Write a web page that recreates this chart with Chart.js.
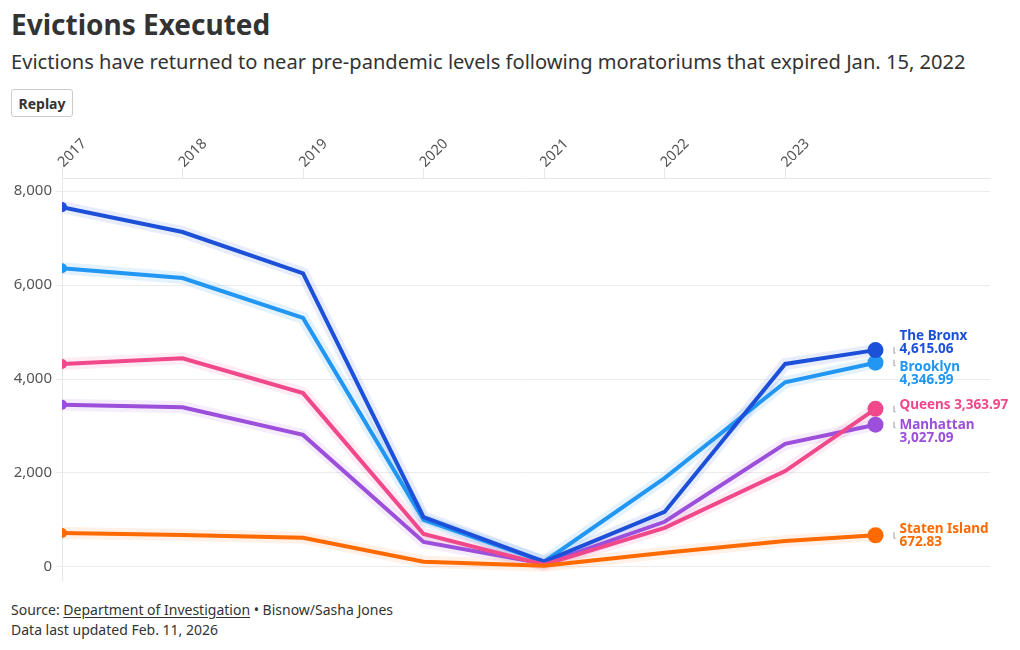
<!DOCTYPE html>
<html>
<head>
<meta charset="utf-8">
<script src="https://cdn.jsdelivr.net/npm/chart.js@4.4.1/dist/chart.umd.min.js"></script>
<style>
  body { margin: 0; background: #fff; font-family: "Noto Sans", sans-serif; color: #333; }
  #wrap { position: relative; width: 1020px; height: 650px; overflow: hidden; }
  h1 { position: absolute; left: 11px; top: 10px; margin: 0; font-size: 28px; line-height: 28px; font-weight: 700; color: #333; }
  .sub { position: absolute; left: 11px; top: 52px; font-size: 20.1px; line-height: 20px; color: #333; white-space: nowrap; }
  button { position: absolute; left: 11px; top: 89px; width: 62px; height: 28px; padding: 0; background: #fff;
           border: 1px solid #ccc; border-radius: 3px; font-family: "Noto Sans", sans-serif; font-weight: 700; font-size: 14px; color: #333; }
  #chartBox { position: absolute; left: 0; top: 120px; width: 1020px; height: 475px; }
  .foot { position: absolute; left: 11px; font-size: 14px; line-height: 20px; color: #333; white-space: nowrap; }
  .foot u { text-underline-offset: 2px; }
</style>
</head>
<body>
<div id="wrap">
  <h1>Evictions Executed</h1>
  <div class="sub">Evictions have returned to near pre-pandemic levels following moratoriums that expired Jan. 15, 2022</div>
  <button>Replay</button>
  <div id="chartBox"><canvas id="myChart"></canvas></div>
  <div class="foot" style="top:600px">Source: <u>Department of Investigation</u> • Bisnow/Sasha Jones</div>
  <div class="foot" style="top:620px">Data last updated Feb. 11, 2026</div>
</div>
<script>
// x positions of the points (last one is the latest partial reading)
var years = [2017, 2018, 2019, 2020, 2021, 2022, 2023, 2023.75];
var yearTicks = [2017, 2018, 2019, 2020, 2021, 2022, 2023];
var yTicks = [0, 2000, 4000, 6000, 8000];

var bronx = [7660, 7130, 6250, 1060, 110, 1170, 4320, 4615.06];
var brooklyn = [6360, 6150, 5300, 1000, 110, 1890, 3930, 4346.99];
var queens = [4320, 4440, 3700, 700, 45, 830, 2040, 3363.97];
var manhattan = [3450, 3400, 2810, 530, 65, 960, 2620, 3027.09];
var statenIsland = [720, 680, 620, 110, 25, 300, 550, 672.83];

var names = ["Staten Island", "Queens", "The Bronx", "Manhattan", "Brooklyn"];
var values = [statenIsland, queens, bronx, manhattan, brooklyn];
var colors = ["#ff6a00", "#f0488a", "#1d50d9", "#9b4fdb", "#2196f3"];
var halos = ["rgba(255,140,60,0.12)", "rgba(240,72,138,0.10)", "rgba(29,80,217,0.10)", "rgba(155,79,219,0.10)", "rgba(33,150,243,0.12)"];

// label placement next to the end dots (dy of name / value baseline from dot)
var labelLayout = {
  "The Bronx": [-10, 3],
  "Brooklyn": [8, 21],
  "Queens": [0, null],
  "Manhattan": [4, 17],
  "Staten Island": [-2, 11]
};

function fmt(v) {
  return v.toLocaleString("en-US", { minimumFractionDigits: 2, maximumFractionDigits: 2 });
}

var datasets = [];
names.forEach(function (n, i) {
  var pts = years.map(function (yr, j) { return { x: yr, y: values[i][j] }; });
  datasets.push({
    label: n,
    data: pts,
    borderColor: colors[i],
    backgroundColor: colors[i],
    borderWidth: 4,
    pointRadius: pts.map(function (p, j) { return j === 0 ? 5 : (j === pts.length - 1 ? 8 : 0); }),
    pointBorderWidth: 0,
    tension: 0,
    order: 1,
    clip: { left: 0, top: false, right: false, bottom: false }
  });
  datasets.push({
    label: n + " halo",
    data: pts,
    borderColor: halos[i],
    borderWidth: 12,
    pointRadius: 0,
    tension: 0,
    order: 5,
    clip: { left: 0, top: false, right: false, bottom: false }
  });
});

var endLabels = {
  id: "endLabels",
  afterDatasetsDraw: function (chart) {
    var ctx = chart.ctx;
    ctx.save();
    ctx.textBaseline = "alphabetic";
    ctx.textAlign = "left";
    ctx.font = "bold 13.5px 'Noto Sans'";
    names.forEach(function (n, i) {
      var meta = chart.getDatasetMeta(i * 2);
      var last = meta.data[meta.data.length - 1];
      var x = last.x + 24, y = last.y;
      var lay = labelLayout[n];
      var v = values[i][values[i].length - 1];
      // small connector
      ctx.strokeStyle = "#999";
      ctx.lineWidth = 1;
      ctx.beginPath();
      ctx.moveTo(x - 5.5, y - 3);
      ctx.lineTo(x - 5.5, y + 3);
      ctx.lineTo(x - 4, y + 3);
      ctx.stroke();
      ctx.fillStyle = colors[i];
      if (lay[1] === null) {
        ctx.fillText(n + " " + fmt(v), x, y + lay[0]);
      } else {
        ctx.fillText(n, x, y + lay[0]);
        ctx.fillText(fmt(v), x, y + lay[1]);
      }
    });
    ctx.restore();
  }
};

var ctx = document.getElementById("myChart").getContext("2d");
var myChart = new Chart(ctx, {
  type: "line",
  data: { datasets: datasets },
  plugins: [endLabels],
  options: {
    responsive: true,
    maintainAspectRatio: false,
    animation: false,
    layout: { padding: { left: 0, right: 30, top: 0, bottom: 15 } },
    plugins: { legend: { display: false }, tooltip: { enabled: false } },
    scales: {
      x: {
        type: "linear",
        position: "top",
        min: 2017,
        max: 2024.7,
        afterBuildTicks: function (s) { s.ticks = yearTicks.map(function (v) { return { value: v }; }); },
        afterFit: function (s) { s.height = 58; },
        grid: { drawOnChartArea: false, drawTicks: true, tickLength: 10, color: "#e8e8e8" },
        border: { color: "#e8e8e8" },
        ticks: {
          minRotation: 45,
          maxRotation: 45,
          padding: -3,
          labelOffset: 11,
          color: "#555",
          font: { family: "Noto Sans", size: 14.5 },
          callback: function (v) { return String(v); }
        }
      },
      y: {
        min: -280,
        max: 8280,
        afterBuildTicks: function (s) { s.ticks = yTicks.map(function (v) { return { value: v }; }); },
        afterFit: function (s) { s.width = 62; },
        grid: { color: "#ececec", tickLength: 6 },
        border: { color: "#e8e8e8" },
        ticks: {
          padding: 4,
          color: "#555",
          font: { family: "Noto Sans", size: 15 },
          callback: function (v) { return v.toLocaleString("en-US"); }
        }
      }
    }
  }
});
</script>
</body>
</html>
